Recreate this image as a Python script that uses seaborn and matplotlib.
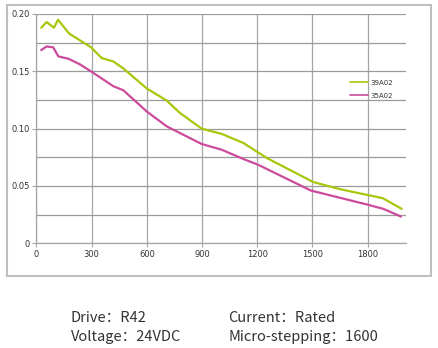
import numpy as np
import pandas as pd
import matplotlib
matplotlib.use("Agg")
import matplotlib.pyplot as plt
from matplotlib.patches import Rectangle
from matplotlib.ticker import MultipleLocator
import seaborn as sns

speed_39 = [26, 55, 95, 117, 177, 296, 355, 418, 472, 600, 708, 780, 898, 1007, 1125, 1252, 1505, 1650, 1795, 1882, 1986]
torque_39 = [0.188, 0.193, 0.188, 0.195, 0.183, 0.171, 0.1615, 0.1586, 0.1525, 0.135, 0.1245, 0.1137, 0.100, 0.0954, 0.0875, 0.0744, 0.0534, 0.0472, 0.0423, 0.0394, 0.030]
speed_35 = [26, 55, 91, 119, 173, 237, 296, 418, 472, 600, 708, 898, 1007, 1125, 1205, 1492, 1805, 1886, 1982]
torque_35 = [0.1685, 0.1717, 0.1709, 0.163, 0.161, 0.156, 0.150, 0.137, 0.1335, 0.1149, 0.102, 0.0866, 0.0816, 0.0735, 0.0685, 0.046, 0.0335, 0.030, 0.0233]
series_names = ["39A02", "35A02"]
x_ticks = [0, 300, 600, 900, 1200, 1500, 1800]
y_ticks = [0, 0.05, 0.10, 0.15, 0.20]
y_labels = ["0", "0.05", "0.10", "0.15", "0.20"]
info_left = ["Drive：R42", "Voltage：24VDC"]
info_right = ["Current：Rated", "Micro-stepping：1600"]

df = pd.concat([
    pd.DataFrame({"speed": speed_39, "torque": torque_39, "model": series_names[0]}),
    pd.DataFrame({"speed": speed_35, "torque": torque_35, "model": series_names[1]}),
])

sns.set_style("white")
plt.rcParams['font.family'] = ['DejaVu Sans']

fig = plt.figure(figsize=(4.38, 3.48), dpi=100)
ax = fig.add_axes([0.0833, 0.3009, 0.8432, 0.6589])

palette = {"39A02": "#a6c80c", "35A02": "#cc4a9c"}
sns.lineplot(data=df, x="speed", y="torque", hue="model", palette=palette,
             linewidth=1.6, ax=ax, sort=False, estimator=None)

ax.set_xlim(0, 2008)
ax.set_ylim(0, 0.2)
ax.set_xticks(x_ticks)
ax.set_xticklabels([str(t) for t in x_ticks])
ax.set_yticks(y_ticks)
ax.set_yticklabels(y_labels)
ax.yaxis.set_minor_locator(MultipleLocator(0.025))
ax.grid(True, which="both", axis="y", color="#9a9a9a", linewidth=0.9)
ax.grid(True, which="major", axis="x", color="#a6a6a6", linewidth=0.9)
ax.set_axisbelow(True)
for s in ["top", "right"]:
    ax.spines[s].set_visible(False)
for s in ["left", "bottom"]:
    ax.spines[s].set_color("#a6a6a6")
    ax.spines[s].set_linewidth(0.9)
ax.tick_params(axis="both", which="major", direction="out", length=3, width=0.8,
               color="#a6a6a6", labelsize=6, labelcolor="#333333", pad=2)
ax.tick_params(axis="y", which="minor", length=0)
ax.tick_params(left=True, bottom=True)
ax.set_xlabel("")
ax.set_ylabel("")

leg = ax.legend(loc="upper left", bbox_to_anchor=(0.842, 0.725), frameon=False,
                fontsize=5, handlelength=2.6, handletextpad=0.3, labelspacing=1.0,
                borderaxespad=0)
for t in leg.get_texts():
    t.set_color("#333333")
for l in leg.get_lines():
    l.set_linewidth(1.2)

fig.add_artist(Rectangle((7 / 438, 1 - 275.7 / 348), (431 - 7) / 438, (275.7 - 4.7) / 348,
                         transform=fig.transFigure, fill=False, edgecolor="#bfbfbf", linewidth=1.5))

cjk = ['Noto Sans CJK SC', 'DejaVu Sans']
fig.text(71 / 438, 1 - 322 / 348, info_left[0], family=cjk, fontsize=10.5, color="#333333", va="baseline")
fig.text(71 / 438, 1 - 341 / 348, info_left[1], family=cjk, fontsize=10.5, color="#333333", va="baseline")
fig.text(228 / 438, 1 - 322 / 348, info_right[0], family=cjk, fontsize=10.5, color="#333333", va="baseline")
fig.text(228 / 438, 1 - 341 / 348, info_right[1], family=cjk, fontsize=10.5, color="#333333", va="baseline")

fig.savefig("out.png", dpi=100)
